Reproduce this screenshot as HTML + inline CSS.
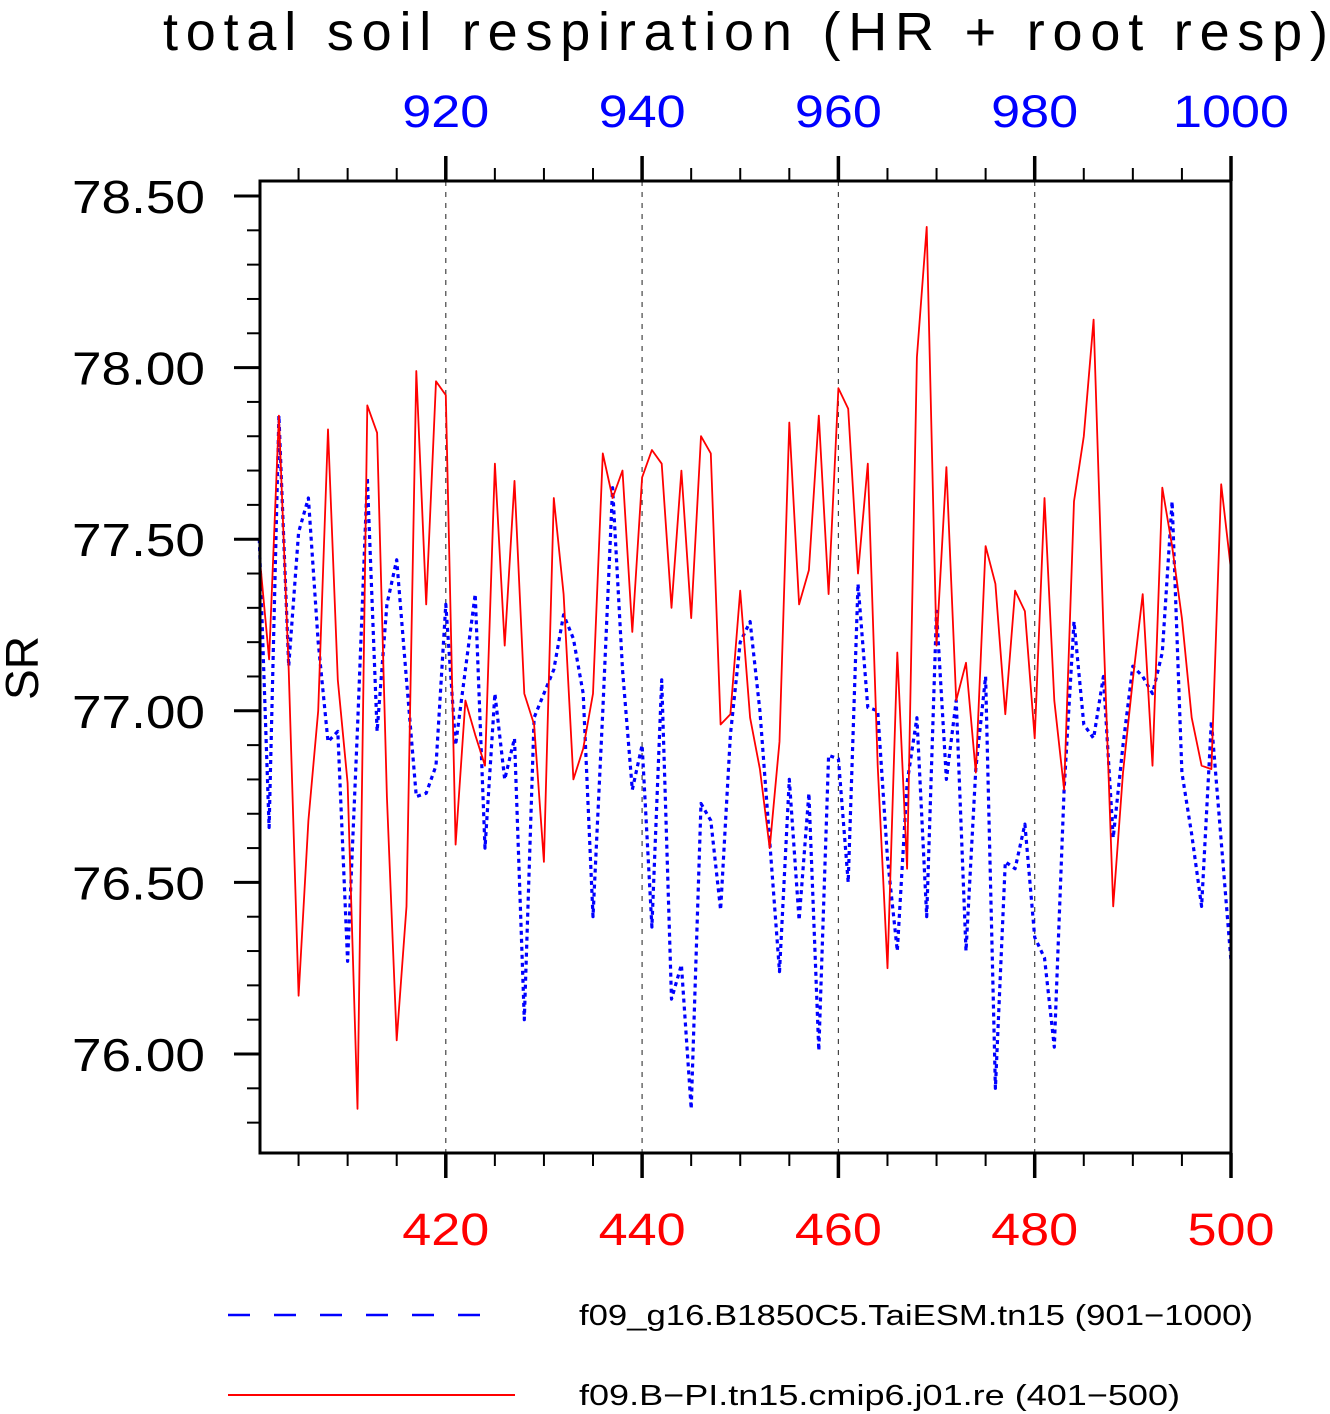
<!DOCTYPE html>
<html><head><meta charset="utf-8"><style>
html,body{margin:0;padding:0;background:#fff;}
svg{display:block;font-family:"Liberation Sans",sans-serif;}
</style></head><body>
<svg id="chart" width="1330" height="1414" viewBox="0 0 1330 1414" xmlns="http://www.w3.org/2000/svg">
<text x="163" y="50" font-size="54" textLength="1165" lengthAdjust="spacing" fill="#000">total soil respiration (HR + root resp)</text>
<text transform="translate(38,668) rotate(-90)" text-anchor="middle" font-size="46" fill="#000">SR</text>
<g id="grid"></g>
<g id="series"></g>
<g id="axes"></g>
<g>
<line x1="228" y1="1315" x2="495" y2="1315" stroke="#0000ff" stroke-width="2.5" stroke-dasharray="22,24"/>
<text x="579" y="1325" font-size="29" textLength="674" lengthAdjust="spacingAndGlyphs" fill="#000">f09_g16.B1850C5.TaiESM.tn15 (901−1000)</text>
<line x1="228" y1="1395" x2="515" y2="1395" stroke="#ff0000" stroke-width="2"/>
<text x="579" y="1405" font-size="29" textLength="601" lengthAdjust="spacingAndGlyphs" fill="#000">f09.B−PI.tn15.cmip6.j01.re (401−500)</text>
</g>
</svg>
<script>
const years = Array.from({length:100},(_,i)=>401+i);
const redValues = [77.46,77.15,77.86,77.12,76.17,76.68,77.00,77.82,77.09,76.79,75.84,77.89,77.81,76.75,76.04,76.43,77.99,77.31,77.96,77.92,76.61,77.03,76.93,76.84,77.72,77.19,77.67,77.05,76.96,76.56,77.62,77.34,76.80,76.89,77.05,77.75,77.62,77.70,77.23,77.68,77.76,77.72,77.30,77.70,77.27,77.80,77.75,76.96,76.99,77.35,76.98,76.83,76.60,76.91,77.84,77.31,77.41,77.86,77.34,77.94,77.88,77.40,77.72,76.84,76.25,77.17,76.54,78.03,78.41,77.19,77.71,77.03,77.14,76.82,77.48,77.37,76.99,77.35,77.29,76.92,77.62,77.03,76.77,77.61,77.80,78.14,77.24,76.43,76.82,77.09,77.34,76.84,77.65,77.48,77.27,76.98,76.84,76.83,77.66,77.41];
const blueValues = [77.50,76.66,77.86,77.13,77.52,77.62,77.20,76.91,76.94,76.27,76.95,77.68,76.94,77.31,77.44,77.09,76.75,76.76,76.84,77.31,76.90,77.12,77.34,76.60,77.05,76.80,76.92,76.10,76.98,77.05,77.12,77.28,77.21,77.05,76.40,77.00,77.65,77.12,76.77,76.90,76.37,77.09,76.16,76.26,75.84,76.73,76.68,76.42,76.93,77.20,77.26,77.00,76.62,76.24,76.80,76.39,76.76,76.01,76.87,76.86,76.50,77.37,77.01,77.00,76.57,76.30,76.79,76.98,76.40,77.29,76.80,77.03,76.30,76.83,77.10,75.90,76.56,76.54,76.67,76.34,76.28,76.02,76.77,77.26,76.96,76.92,77.10,76.63,76.90,77.13,77.10,77.05,77.17,77.61,76.82,76.64,76.43,76.97,76.62,76.27];
const yTickLabels = ["78.50","78.00","77.50","77.00","76.50","76.00"];
const bottomTickLabels = ["420","440","460","480","500"];
const topTickLabels = ["920","940","960","980","1000"];

const L=260,R=1231,T=181,B=1153;
const xs = y => 259.3 + (y-401)*(1231-259.3)/99;
const ys = v => 196 + (78.5 - v)*343.2;
const NS="http://www.w3.org/2000/svg";
function mk(tag, parent){const e=document.createElementNS(NS,tag);parent.appendChild(e);return e;}
const grid=document.getElementById('grid'), series=document.getElementById('series'), axes=document.getElementById('axes');

bottomTickLabels.forEach((lab,i)=>{
  const yr=+lab; const x=xs(yr);
  if(yr<500){
    const g=mk('line',grid);
    
    
    g.setAttribute('x1',x);g.setAttribute('x2',x);g.setAttribute('y1',T);g.setAttribute('y2',B);
    g.setAttribute('stroke','#444');g.setAttribute('stroke-width','1.2');g.setAttribute('stroke-dasharray','5,6');
  }
  const t=mk('text',axes);
  
  
  t.setAttribute('x',x);t.setAttribute('y',1245);t.setAttribute('text-anchor','middle');t.setAttribute('font-size','45');t.setAttribute('fill','#ff0000');
  t.setAttribute('textLength',lab.length*29);t.setAttribute('lengthAdjust','spacingAndGlyphs');
  t.textContent=lab;
  const t2=mk('text',axes);
  
  
  t2.setAttribute('x',x);t2.setAttribute('y',127);t2.setAttribute('text-anchor','middle');t2.setAttribute('font-size','45');t2.setAttribute('fill','#0000ff');
  t2.setAttribute('textLength',topTickLabels[i].length*29);t2.setAttribute('lengthAdjust','spacingAndGlyphs');
  t2.textContent=topTickLabels[i];
});

function drawLine(vals,color,dash,w,name){
  const p=mk('path',series);
  
  
  p.setAttribute('d',vals.map((v,i)=>(i?'L':'M')+xs(years[i]).toFixed(1)+','+ys(v).toFixed(1)).join(''));
  p.setAttribute('fill','none');p.setAttribute('stroke',color);p.setAttribute('stroke-width',w);
  p.setAttribute('stroke-linejoin','round');
  if(dash)p.setAttribute('stroke-dasharray',dash);
}
drawLine(blueValues,'#0000ff','4,4','3.2','blue-series-line');
drawLine(redValues,'#ff0000',null,'1.8','red-series-line');

for(let yr=405; yr<=500; yr+=5){
  const x=xs(yr), major=(yr%20===0);
  [[B,B+(major?25:13)],[T,T-(major?25:13)]].forEach(([a,b])=>{
    const l=mk('line',axes);
    
    
    l.setAttribute('x1',x);l.setAttribute('x2',x);l.setAttribute('y1',a);l.setAttribute('y2',b);
    l.setAttribute('stroke','#000');l.setAttribute('stroke-width',major?3.5:2);
  });
}
for(let k=0;k<=27;k++){
  const v=78.5-k*0.1; const y=ys(v); if(y>B)break;
  const major=(k%5===0);
  const l=mk('line',axes);
  
  
  l.setAttribute('x1',L);l.setAttribute('x2',L-(major?26:13));l.setAttribute('y1',y);l.setAttribute('y2',y);
  l.setAttribute('stroke','#000');l.setAttribute('stroke-width',major?3:2);
}
yTickLabels.forEach(lab=>{
  const t=mk('text',axes);
  
  
  t.setAttribute('x',72);t.setAttribute('y',ys(+lab)+17);t.setAttribute('font-size','46');t.setAttribute('fill','#000');
  t.setAttribute('textLength','133');t.setAttribute('lengthAdjust','spacingAndGlyphs');
  t.textContent=lab;
});
const box=mk('rect',axes);


box.setAttribute('x',L);box.setAttribute('y',T);box.setAttribute('width',R-L);box.setAttribute('height',B-T);
box.setAttribute('fill','none');box.setAttribute('stroke','#000');box.setAttribute('stroke-width','3');
</script>
</body></html>
